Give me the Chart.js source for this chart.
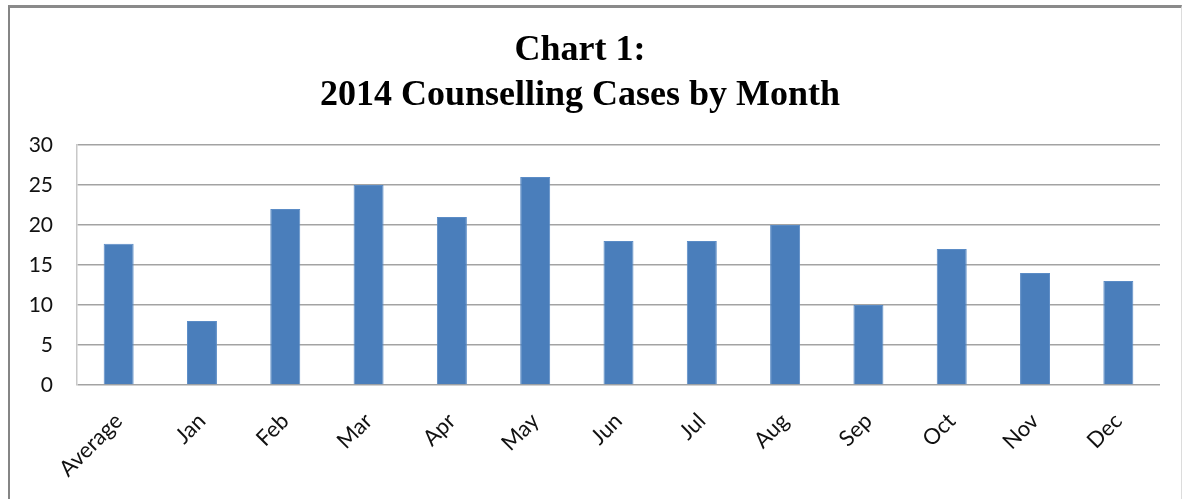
<!DOCTYPE html>
<html>
<head>
<meta charset="utf-8">
<script src="https://cdn.jsdelivr.net/npm/chart.js@4"></script>
<style>
    html, body { margin: 0; padding: 0; background: #fff; }
    #wrap { position: relative; width: 1183px; height: 499px; }
    #frame {
        position: absolute; left: 8px; top: 5px; width: 1171px; height: 500px;
        border-left: 2px solid #858585; border-top: 3px solid #8a8a8a; border-right: 1px solid #dcdcdc;
        pointer-events: none;
    }
</style>
</head>
<body>
<div id="wrap">
    <canvas id="myChart" width="1183" height="499"></canvas>
    <div id="frame"></div>
</div>
<script>
// 카테고리와 값
const categories = ["Average", "Jan", "Feb", "Mar", "Apr", "May", "Jun",
    "Jul", "Aug", "Sep", "Oct", "Nov", "Dec"];
const cases = [17.67, 8, 22, 25, 21, 26, 18, 18, 20, 10, 17, 14, 13];
const titleLines = ["Chart 1:", "2014 Counselling Cases by Month"];
const yTicks = [0, 5, 10, 15, 20, 25, 30];

const ctx = document.getElementById('myChart').getContext('2d');
const myChart = new Chart(ctx, {
    type: 'bar',
    data: {
        labels: categories,
        datasets: [{
            label: 'Cases',
            data: cases,
            backgroundColor: '#4a7ebb',
            borderColor: '#5b8cc6',
            borderWidth: 1,
            categoryPercentage: 1,
            barPercentage: 0.36
        }]
    },
    options: {
        responsive: false,
        animation: false,
        layout: { padding: { left: 0, right: 23, top: 0, bottom: 0 } },
        scales: {
            x: {
                grid: { display: false, drawTicks: false },
                border: { display: false },
                ticks: {
                    color: '#111',
                    font: { family: 'Lato', size: 22 },
                    minRotation: 45,
                    maxRotation: 45,
                    padding: 23,
                    autoSkip: false
                },
                afterFit: s => { s.height = 114; }
            },
            y: {
                min: 0,
                max: 30,
                afterBuildTicks: s => { s.ticks = yTicks.map(v => ({ value: v })); },
                grid: { color: '#a3a3a3', lineWidth: 1.5, drawTicks: false },
                border: { display: true, color: '#c8c8c8', width: 1.5 },
                ticks: {
                    color: '#111',
                    font: { family: 'Lato', size: 21 },
                    padding: 24
                },
                afterFit: s => { s.width = 77; }
            }
        },
        plugins: {
            legend: { display: false },
            tooltip: { enabled: false },
            title: {
                display: true,
                text: titleLines,
                color: '#000',
                font: { family: 'Liberation Serif', size: 36, weight: 'bold', lineHeight: 1.25 },
                padding: { top: 28, bottom: 27 }
            }
        }
    }
});
</script>
</body>
</html>
